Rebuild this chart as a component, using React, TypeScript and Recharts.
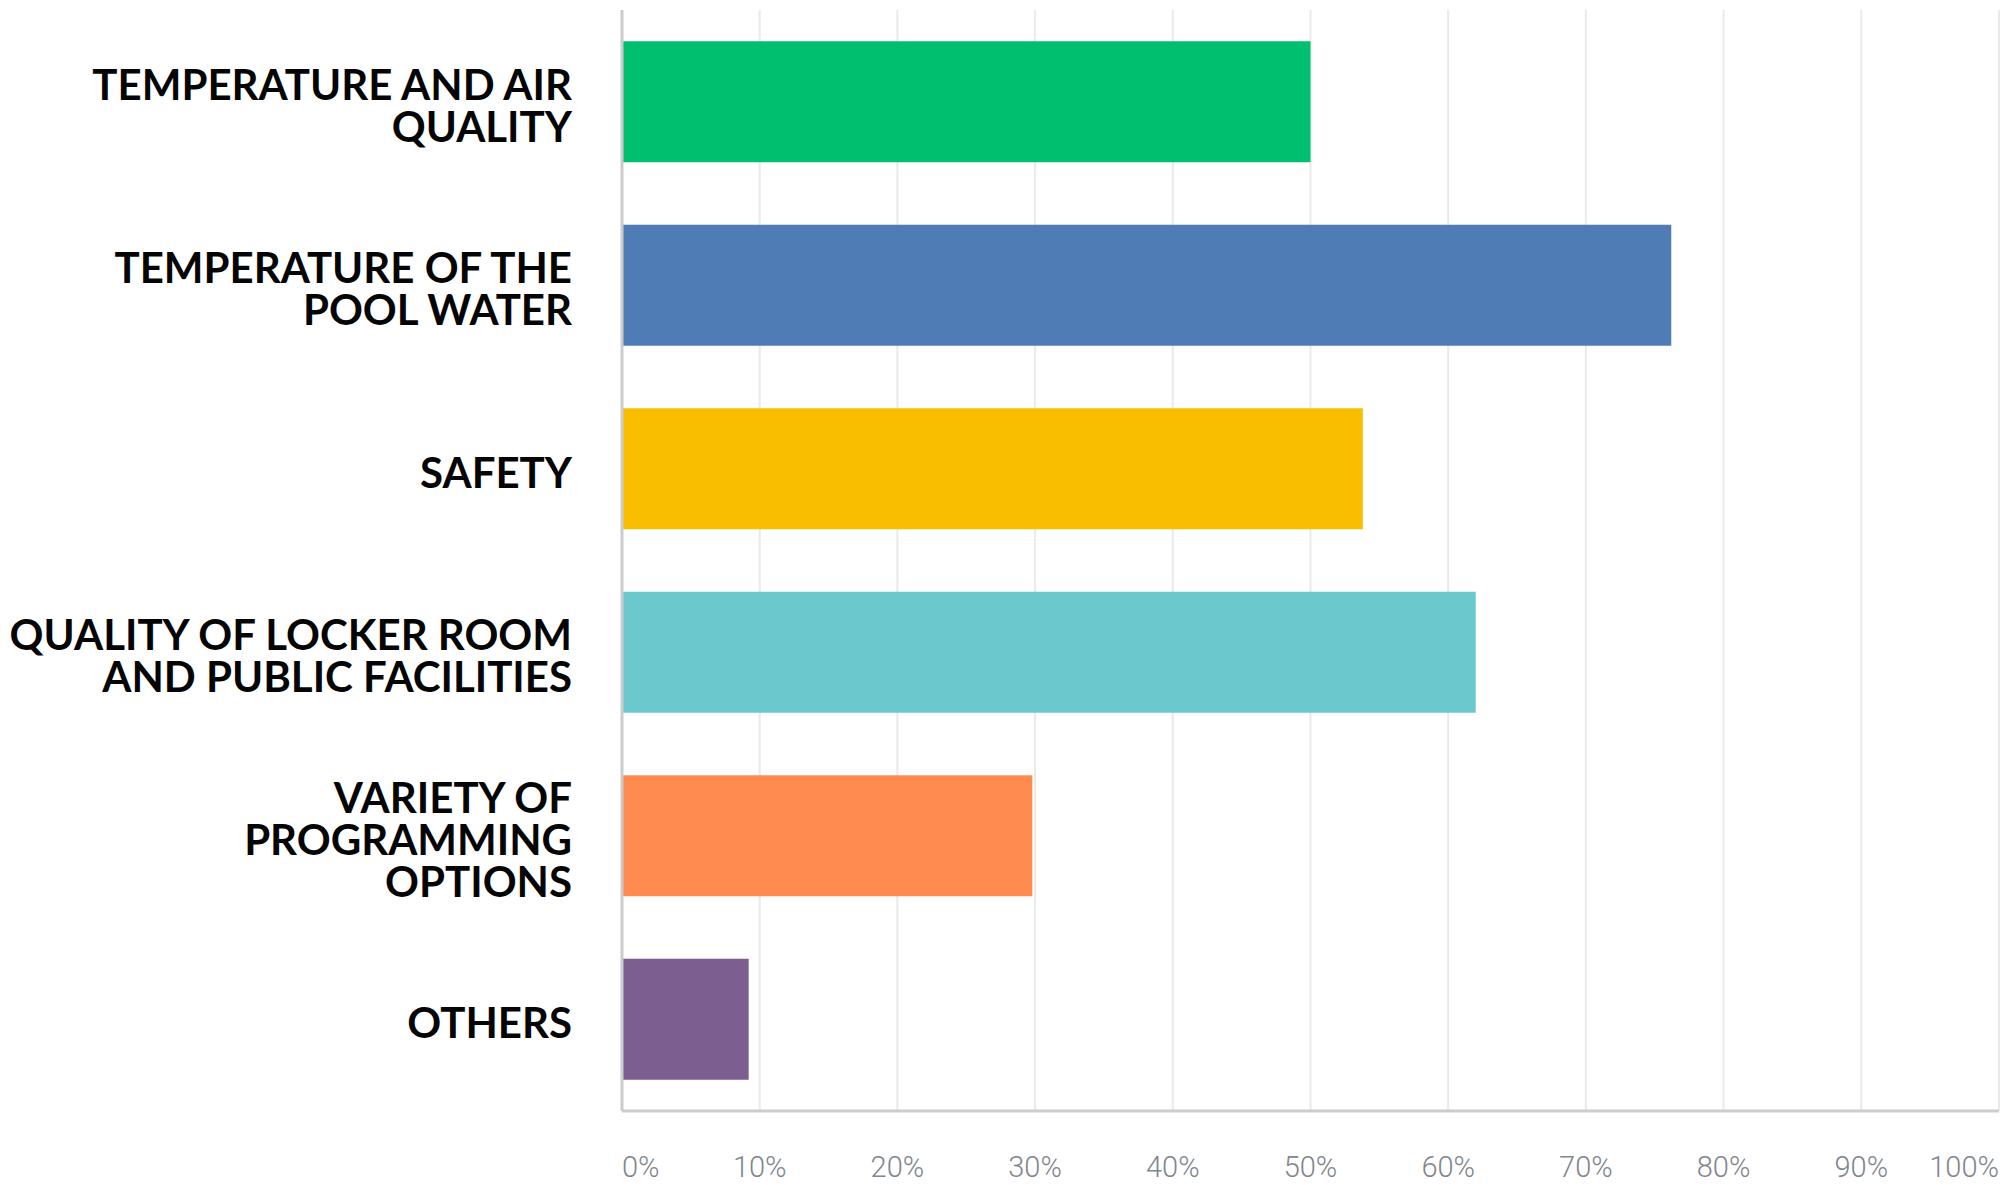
import React from "react";
import { BarChart, Bar, XAxis, YAxis, CartesianGrid, Cell } from "recharts";

const categories = [
  "TEMPERATURE AND AIR\nQUALITY",
  "TEMPERATURE OF THE\nPOOL WATER",
  "SAFETY",
  "QUALITY OF LOCKER ROOM\nAND PUBLIC FACILITIES",
  "VARIETY OF\nPROGRAMMING\nOPTIONS",
  "OTHERS",
];
const shares = [50, 76.2, 53.8, 62, 29.8, 9.2];
const barColors = ["#00BF6F", "#507CB6", "#F9BE00", "#6BC8CD", "#FF8B4F", "#7D5E90"];
const percentTicks = [0, 10, 20, 30, 40, 50, 60, 70, 80, 90, 100];

const data = categories.map((name, i) => ({ name, share: shares[i] }));

const LINE_HEIGHT = 42;

// multi-line, right aligned category label
const CategoryTick = (props: any) => {
  const { x, y, payload } = props;
  const lines: string[] = String(payload.value).split("\n");
  const n = lines.length;
  return (
    <text
      x={x}
      y={y}
      textAnchor="end"
      fill="#050505"
      fontFamily="Lato, sans-serif"
      fontWeight={700}
      fontSize={42}
    >
      {lines.map((line, i) => (
        <tspan key={i} x={x} y={y + (i - (n - 1) / 2) * LINE_HEIGHT + 19}>
          {line}
        </tspan>
      ))}
    </text>
  );
};

// first and last labels hug the ends of the axis
const PercentTick = (props: any) => {
  const { x, y, payload } = props;
  const v = payload.value;
  const anchor = v === 0 ? "start" : v === 100 ? "end" : "middle";
  return (
    <text
      x={x}
      y={y + 64}
      textAnchor={anchor}
      fill="#80868e"
      fontFamily="Roboto, sans-serif"
      fontWeight={300}
      fontSize={29}
    >
      {v}%
    </text>
  );
};

const App = () => {
  return (
    <div
      style={{
        position: "absolute",
        left: 0,
        top: 0,
        width: 2007,
        height: 1185,
        background: "#ffffff",
      }}
    >
      <BarChart
        width={2007}
        height={1185}
        data={data}
        layout="vertical"
        barCategoryGap="17%"
        margin={{ top: 10, right: 8, left: 0, bottom: 0 }}
      >
        <CartesianGrid horizontal={false} stroke="#e9e9e9" strokeWidth={2} />
        <XAxis
          type="number"
          domain={[0, 100]}
          ticks={percentTicks}
          interval={0}
          height={74}
          tickLine={false}
          tickSize={0}
          axisLine={{ stroke: "#cccccc", strokeWidth: 3 }}
          tick={<PercentTick />}
        />
        <YAxis
          type="category"
          dataKey="name"
          width={622}
          tickLine={false}
          tickSize={0}
          tickMargin={50}
          axisLine={{ stroke: "#cccccc", strokeWidth: 3 }}
          tick={<CategoryTick />}
        />
        <Bar dataKey="share" isAnimationActive={false}>
          {data.map((d, i) => (
            <Cell key={d.name} fill={barColors[i]} />
          ))}
        </Bar>
      </BarChart>
    </div>
  );
};

export default App;
